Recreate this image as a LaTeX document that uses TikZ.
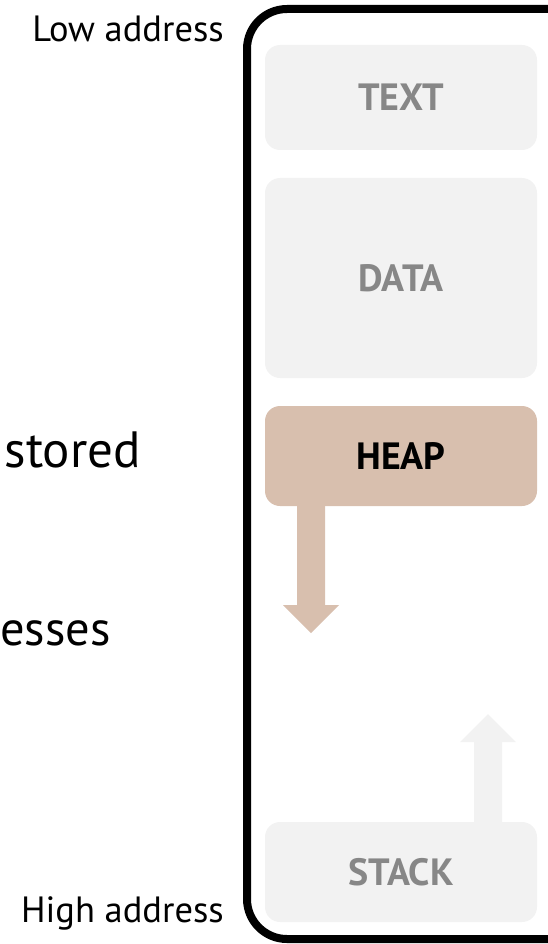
\documentclass[tikz,border=0pt]{standalone}
\usepackage{fontspec}
\setmainfont{PT Sans}
\definecolor{boxgray}{HTML}{F2F2F2}
\definecolor{labelgray}{HTML}{878787}
\definecolor{heaptan}{HTML}{D8BFAE}
\begin{document}
\begin{tikzpicture}[x=1pt,y=-1pt,
  seg/.style={fill=boxgray, rounded corners=15pt, minimum width=272pt, inner sep=0pt,
    font=\fontsize{38}{38}\selectfont\bfseries, text=labelgray},
  side/.style={font=\fontsize{36.5}{36.5}\selectfont, anchor=base east, inner sep=0pt},
  big/.style={font=\fontsize{51}{51}\selectfont, anchor=base east, inner sep=0pt}]
\useasboundingbox (0,0) rectangle (548,944);
\clip (0,0) rectangle (548,944);
% outer frame
\draw[line width=8pt, rounded corners=40pt] (247,9) rectangle (600,939);
% segments
\node[seg, minimum height=105pt] (text) at (401,97.5) {TEXT};
\node[seg, minimum height=200pt] (data) at (401,278) {DATA};
\node[seg, minimum height=100pt, fill=heaptan, text=black] (heap) at (401,456) {HEAP};
\node[seg, minimum height=100pt] (stack) at (401,872) {STACK};
% heap arrow (grows down)
\fill[heaptan] (heap.south -| 297,0) -- (297,605) -- (283,605) -- (311,633) -- (339,605) -- (325,605) -- (heap.south -| 325,0) -- cycle;
% stack arrow (grows up)
\fill[boxgray] (stack.north -| 474,0) -- (474,742) -- (460,742) -- (488,714) -- (516,742) -- (502,742) -- (stack.north -| 502,0) -- cycle;
% side labels
\node[side] (low) at (224,42) {Low address};
\node[side] (high) at (224,922) {High address};
\node[big] (stored) at (141,467) {stored};
\node[big, font=\fontsize{48.5}{48.5}\selectfont] (esses) at (111,645) {esses};
\end{tikzpicture}
\end{document}
